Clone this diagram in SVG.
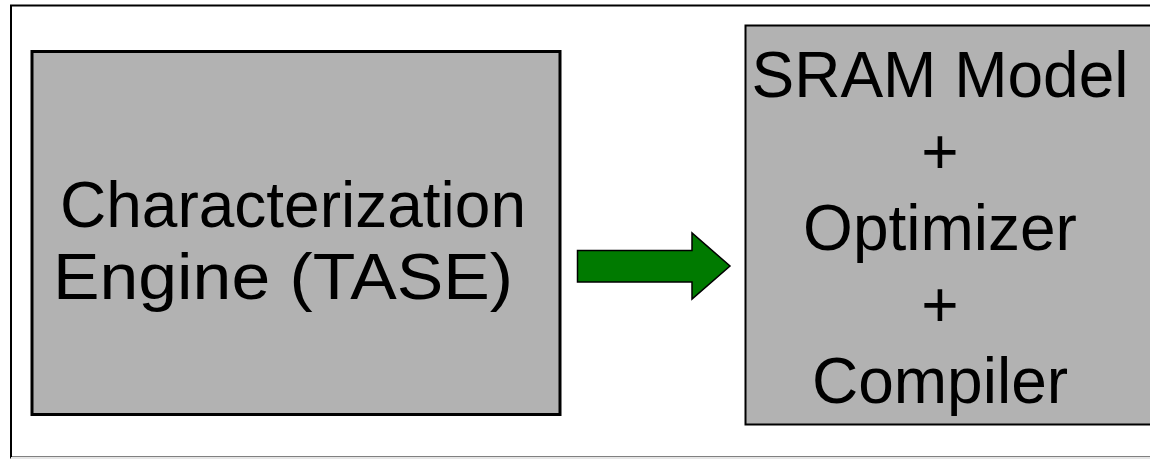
<svg xmlns="http://www.w3.org/2000/svg" width="1150" height="459" viewBox="0 0 1150 459">
<style>
.box{fill:#b2b2b2;stroke:#000}
.t{font-family:"Liberation Sans",Arial,sans-serif;font-size:64px;fill:#000;text-anchor:middle}
</style>
<rect x="0" y="0" width="1150" height="459" fill="#fff"/>
<rect x="11" y="5.5" width="1150" height="452" fill="none" stroke="#000" stroke-width="2"/>
<line x1="11" y1="458" x2="1150" y2="458" stroke="#e6e6e6" stroke-width="2"/>
<g id="engine">
<rect class="box" x="32" y="51.5" width="528" height="363" stroke-width="3"/>
<text class="t" x="293" y="227">Characterization</text>
<text class="t" x="283" y="299" textLength="460" lengthAdjust="spacingAndGlyphs">Engine (TASE)</text>
</g>
<g id="connectors">
<polygon points="577.5,250.5 692,250.5 692,233 730,266 692,299 692,282 577.5,282" fill="#007a00" stroke="#000" stroke-width="1.5"/>
</g>
<g id="sram">
<rect class="box" x="745.5" y="25.5" width="420" height="399" stroke-width="2"/>
<text class="t" x="940" y="97">SRAM Model</text>
<text class="t" x="940" y="174">+</text>
<text class="t" x="940" y="250">Optimizer</text>
<text class="t" x="940" y="327">+</text>
<text class="t" x="940" y="403">Compiler</text>
</g>
</svg>
